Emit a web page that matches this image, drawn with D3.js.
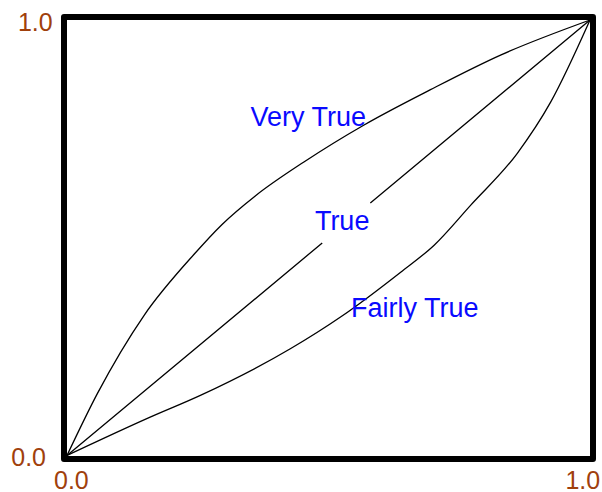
<!DOCTYPE html>
<html>
<head>
<meta charset="utf-8">
<script src="https://cdn.jsdelivr.net/npm/d3@7"></script>
<style>
  html, body { margin: 0; padding: 0; background: #fff; }
  svg { display: block; }
</style>
</head>
<body>
<svg id="chart" width="602" height="492"></svg>
<script>
// curves (truth value -> modified truth value)
const veryTrue = [
  [0, 0], [0.058, 0.142], [0.1475, 0.322], [0.243, 0.462], [0.296, 0.53],
  [0.36, 0.596], [0.453, 0.674], [0.568, 0.759], [0.695, 0.84], [0.83, 0.92], [1, 1]
];
const fairlyTrue = [
  [0, 0], [0.159, 0.088], [0.255, 0.138], [0.427, 0.245], [0.523, 0.318],
  [0.638, 0.421], [0.702, 0.483], [0.772, 0.575], [0.861, 0.694], [0.925, 0.812], [1, 1]
];
// diagonal, broken where the label sits
const trueLine = [[0, 0], [0.488, 0.488], null, [0.58, 0.58], [1, 1]];

const xTicks = [0, 1];
const yTicks = [0, 1];

const labels = [
  { text: "Very True", x: 0.351, y: 0.756 },
  { text: "True", x: 0.474, y: 0.518 },
  { text: "Fairly True", x: 0.543, y: 0.318 }
];

const svg = d3.select("#chart");

const x = d3.scaleLinear().domain([0, 1]).range([67, 590]);
const y = d3.scaleLinear().domain([0, 1]).range([455.5, 20]);

const curve = d3.line()
  .curve(d3.curveMonotoneX)
  .x(d => x(d[0]))
  .y(d => y(d[1]));

const straight = d3.line()
  .defined(d => d)
  .x(d => x(d[0]))
  .y(d => y(d[1]));

const paths = svg.append("g")
  .attr("fill", "none")
  .attr("stroke", "#000")
  .attr("stroke-width", 1.3);

paths.selectAll("path.c")
  .data([veryTrue, fairlyTrue])
  .join("path")
  .attr("class", "c")
  .attr("d", curve);

paths.append("path")
  .attr("d", straight(trueLine));

// frame
svg.append("rect")
  .attr("x", x(0) - 3)
  .attr("y", y(1) - 3)
  .attr("width", x(1) - x(0) + 6)
  .attr("height", y(0) - y(1) + 6.5)
  .attr("fill", "none")
  .attr("stroke", "#000")
  .attr("stroke-width", 6)
  .attr("stroke-linejoin", "round");

const fmt = d3.format(".1f");
const tickColor = "#a0400c";

svg.append("g")
  .selectAll("text")
  .data(yTicks)
  .join("text")
  .attr("x", d => d === 1 ? x(0) - 14.3 : x(0) - 21)
  .attr("y", d => d === 1 ? y(d) + 10.7 : y(d) + 10)
  .attr("text-anchor", "end")
  .attr("font-family", "Liberation Sans, Arial, sans-serif")
  .attr("font-size", 25)
  .attr("fill", tickColor)
  .text(fmt);

svg.append("g")
  .selectAll("text")
  .data(xTicks)
  .join("text")
  .attr("x", d => d === 1 ? x(d) - 24.6 : x(d) - 13)
  .attr("y", 488.5)
  .attr("text-anchor", "start")
  .attr("font-family", "Liberation Sans, Arial, sans-serif")
  .attr("font-size", 25)
  .attr("fill", tickColor)
  .text(fmt);

svg.append("g")
  .selectAll("text")
  .data(labels)
  .join("text")
  .attr("x", d => x(d.x))
  .attr("y", d => y(d.y))
  .attr("font-family", "Liberation Sans, Arial, sans-serif")
  .attr("font-size", 27)
  .attr("fill", "#0a0aff")
  .text(d => d.text);
</script>
</body>
</html>
